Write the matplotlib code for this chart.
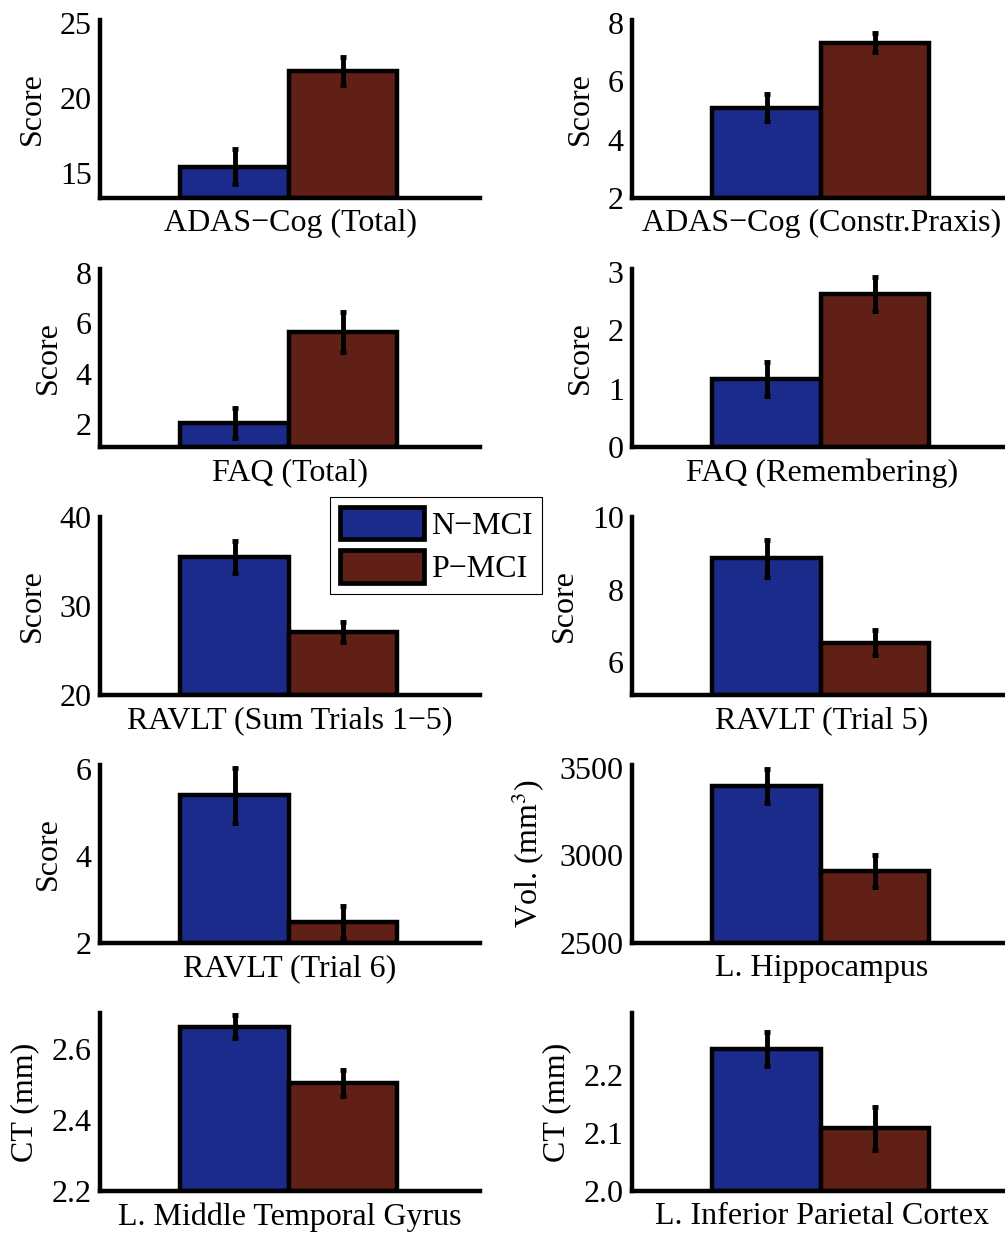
import numpy as np
import matplotlib
matplotlib.use("Agg")
import matplotlib.pyplot as plt
from matplotlib.patches import Patch

plt.rcParams['font.family'] = ['Liberation Serif', 'DejaVu Serif']
plt.rcParams['mathtext.fontset'] = 'stix'

# measures, in reading order (left column, right column, row by row)
titles = ['ADAS\u2212Cog (Total)', 'ADAS\u2212Cog (Constr.Praxis)',
          'FAQ (Total)', 'FAQ (Remembering)',
          'RAVLT (Sum Trials 1\u22125)', 'RAVLT (Trial 5)',
          'RAVLT (Trial 6)', 'L. Hippocampus',
          'L. Middle Temporal Gyrus', 'L. Inferior Parietal Cortex']
ylabels = ['Score', 'Score', 'Score', 'Score', 'Score', 'Score',
           'Score', 'Vol. (mm$^3$)', 'CT (mm)', 'CT (mm)']
groups = ['N\u2212MCI', 'P\u2212MCI']

n_mci_mean = [15.4, 5.1, 2.05, 1.16, 35.5, 8.86, 5.4, 3395, 2.662, 2.245]
n_mci_err = [1.15, 0.45, 0.58, 0.29, 1.75, 0.5, 0.64, 97, 0.032, 0.029]
p_mci_mean = [21.8, 7.32, 5.65, 2.62, 27.1, 6.54, 2.49, 2910, 2.503, 2.108]
p_mci_err = [0.95, 0.33, 0.8, 0.29, 1.1, 0.35, 0.37, 89, 0.037, 0.037]

ylims = [(13.3, 25.2), (2, 8.1), (1.1, 8.15), (0, 3.05), (20, 40),
         (5.1, 10), (2, 6.1), (2500, 3515), (2.2, 2.7), (2.0, 2.307)]
yticks = [[15, 20, 25], [2, 4, 6, 8], [2, 4, 6, 8], [0, 1, 2, 3],
          [20, 30, 40], [6, 8, 10], [2, 4, 6], [2500, 3000, 3500],
          [2.2, 2.4, 2.6], [2.0, 2.1, 2.2]]
ytick_fmt = [None, None, None, None, None, None, None, None, '%.1f', '%.1f']

colors = ['#1b2b8b', '#612016']

W, H = 1005, 1235
fs = 23
fig = plt.figure(figsize=(W / 100, H / 100), dpi=100)

col_left = [100, 632]
ax_w = 380
row_top = [20, 269, 517, 765, 1013]
ax_h = 178

for i in range(10):
    r, c = divmod(i, 2)
    ax = fig.add_axes([col_left[c] / W, 1 - (row_top[r] + ax_h) / H,
                       ax_w / W, ax_h / H])
    means = [n_mci_mean[i], p_mci_mean[i]]
    errs = [n_mci_err[i], p_mci_err[i]]
    ylo = ylims[i][0]
    ax.bar([1, 2], [m - ylo for m in means], bottom=ylo, width=1.0,
           color=colors, edgecolor='black', linewidth=3.2, zorder=2)
    ax.errorbar([1, 2], means, yerr=errs, fmt='none', ecolor='black',
                elinewidth=3.5, capsize=2.5, capthick=3.5, zorder=3)
    ax.set_xlim(-0.24, 3.26)
    ax.set_ylim(*ylims[i])
    ax.set_yticks(yticks[i])
    if ytick_fmt[i]:
        ax.set_yticklabels([ytick_fmt[i] % v for v in yticks[i]])
    ax.set_xticks([])
    for s in ['top', 'right']:
        ax.spines[s].set_visible(False)
    for s in ['left', 'bottom']:
        ax.spines[s].set_linewidth(3.2)
        ax.spines[s].set_capstyle('projecting')
    ax.tick_params(axis='y', length=0, pad=6, labelsize=fs)
    ax.set_xlabel(titles[i], fontsize=fs, labelpad=8)
    ax.set_ylabel(ylabels[i], fontsize=fs, labelpad=9)
    if i == 4:
        handles = [Patch(facecolor=colors[k], edgecolor='black', linewidth=3.4,
                         label=groups[k]) for k in range(2)]
        leg = fig.legend(handles=handles, loc='upper left',
                         bbox_to_anchor=(330 / W, 1 - 497 / H),
                         fontsize=fs, frameon=True, fancybox=False,
                         edgecolor='black', framealpha=1,
                         handlelength=2.65, handleheight=1.2,
                         handletextpad=0.2, labelspacing=0.3,
                         borderpad=0.3, borderaxespad=0)
        leg.get_frame().set_linewidth(0.8)

fig.savefig('out.png', dpi=100)
